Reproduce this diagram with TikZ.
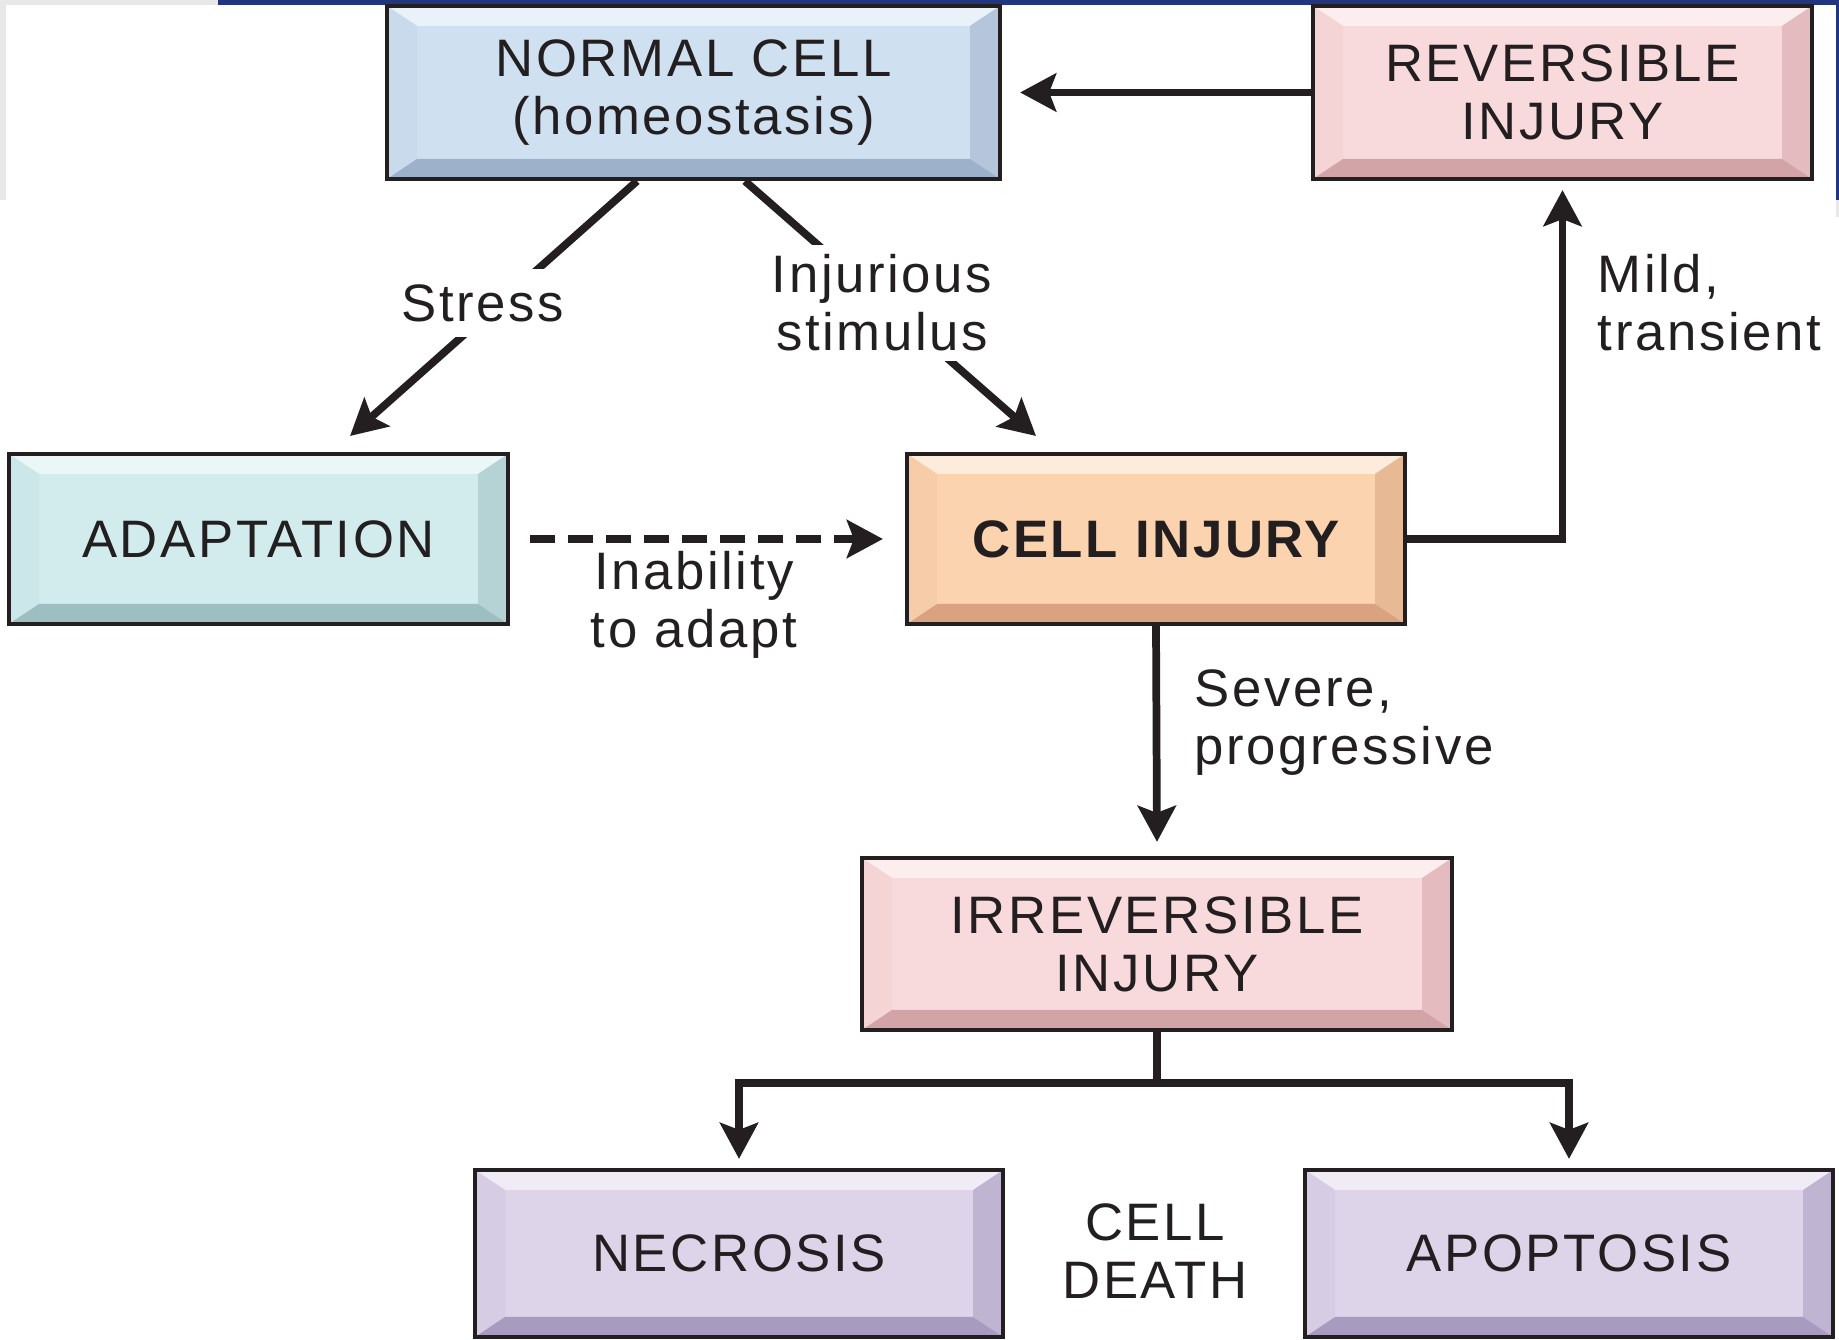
\documentclass[tikz,border=0pt]{standalone}
\usepackage{fontspec}
\setmainfont[LetterSpace=5]{Liberation Sans}
\usetikzlibrary{arrows.meta}

\definecolor{txt}{HTML}{231F20}
\definecolor{slidegray}{HTML}{E8E8E8}
\definecolor{slideblue}{HTML}{22367F}
\definecolor{normalface}{HTML}{CFE0F1}
\definecolor{normaldark}{HTML}{9DB1CB}
\definecolor{revface}{HTML}{F9DADC}
\definecolor{revdark}{HTML}{D3A4A7}
\definecolor{adaptface}{HTML}{D2ECEE}
\definecolor{adaptdark}{HTML}{9EBFC1}
\definecolor{injface}{HTML}{FBD3AF}
\definecolor{injdark}{HTML}{D9A37F}
\definecolor{deathface}{HTML}{DDD4EA}
\definecolor{deathdark}{HTML}{A79BC0}

\tikzset{
  cellbox/.style 2 args={draw=txt, line width=1.2pt, fill=#1, text=txt, align=center, inner sep=0pt,
    path picture={
      % bevel: top, left, right, bottom
      \fill[#1!45!white] (path picture bounding box.north west) -- (path picture bounding box.north east)
        -- ++(-3mm,-2mm) -- ([shift={(3mm,-2mm)}]path picture bounding box.north west) -- cycle;
      \fill[#1!88!#2] (path picture bounding box.north west) -- ++(3mm,-2mm)
        -- ([shift={(3mm,2mm)}]path picture bounding box.south west) -- (path picture bounding box.south west) -- cycle;
      \fill[#2!55!#1] (path picture bounding box.north east) -- ++(-3mm,-2mm)
        -- ([shift={(-3mm,2mm)}]path picture bounding box.south east) -- (path picture bounding box.south east) -- cycle;
      \fill[#2] (path picture bounding box.south west) -- (path picture bounding box.south east)
        -- ++(-3mm,2mm) -- ([shift={(3mm,2mm)}]path picture bounding box.south west) -- cycle;
    }},
  arr/.style={draw=txt, line width=2.2pt, -{Stealth[length=3.6mm,width=3.8mm,inset=0.7mm]}},
  lbl/.style={text=txt, align=center, inner sep=0pt},
}

\begin{document}
\begin{tikzpicture}[font=\fontsize{15}{16.5}\selectfont]
\useasboundingbox (0,0) rectangle (18.39,13.40);

% slide frame bits
\fill[slidegray] (0,13.40) rectangle (2.18,13.35);
\fill[slidegray] (0,13.40) rectangle (0.06,11.40);
\fill[slideblue] (2.18,13.40) rectangle (18.39,13.35);
\fill[slideblue] (18.36,13.40) rectangle (18.39,11.40);
\fill[slidegray] (18.36,11.40) rectangle (18.39,11.23);

% boxes
\node (normal) at (6.935,12.475) [cellbox={normalface}{normaldark}, minimum width=6.13cm, minimum height=1.73cm] {NORMAL CELL\\(homeostasis)};
\node (rev) at (15.625,12.475) [cellbox={revface}{revdark}, minimum width=4.99cm, minimum height=1.73cm] {REVERSIBLE\\INJURY};
\node (adapt) at (2.585,8.01) [cellbox={adaptface}{adaptdark}, minimum width=4.99cm, minimum height=1.70cm] {ADAPTATION};
\node (injury) at (11.56,8.01) [cellbox={injface}{injdark}, minimum width=4.98cm, minimum height=1.70cm] {\bfseries CELL INJURY};
\node (irrev) at (11.57,3.96) [cellbox={revface}{revdark}, minimum width=5.90cm, minimum height=1.72cm] {IRREVERSIBLE\\INJURY};
\node (necro) at (7.39,0.865) [cellbox={deathface}{deathdark}, minimum width=5.28cm, minimum height=1.67cm] {NECROSIS};
\node (apop) at (15.69,0.865) [cellbox={deathface}{deathdark}, minimum width=5.28cm, minimum height=1.67cm] {APOPTOSIS};

\coordinate (stresstip) at (3.50,9.04);
\coordinate (injtip) at (10.36,9.04);

% connectors
\draw[arr] (rev.west) -- ([xshift=1.8mm]normal.east);
\draw[arr] ([xshift=-5.65mm]normal.south) -- (stresstip);
\node (stress) at (4.83,10.37) [lbl, fill=white, inner sep=1.5mm] {Stress};
\draw[arr] ([xshift=5.15mm]normal.south) -- (injtip);
\node (stim) at (8.82,10.37) [lbl, fill=white, inner sep=1mm] {Injurious\\stimulus};

\draw[arr, dash pattern=on 2.5mm off 1.3mm] ([xshift=2mm]adapt.east) -- ([xshift=-2.2mm]injury.west);
\node (unable) at (6.94,7.35) [lbl] {Inability\\to adapt};

\draw[arr] (injury.east) -| ([yshift=-0.9mm]rev.south);
\node (mild) at (15.97,10.37) [lbl, anchor=west, align=left] {Mild,\\transient};

\draw[arr] (injury.south) -- ([yshift=1.4mm]irrev.north);
\node (severe) at (11.94,6.17) [lbl, anchor=west, align=left] {Severe,\\progressive};

\draw[arr] (irrev.south) -- ++(0,-0.51) -| ([yshift=0.9mm]necro.north);
\draw[arr] (irrev.south) -- ++(0,-0.51) -| ([yshift=0.9mm]apop.north);
\node (death) at (11.55,0.89) [lbl] {CELL\\DEATH};

\end{tikzpicture}
\end{document}
